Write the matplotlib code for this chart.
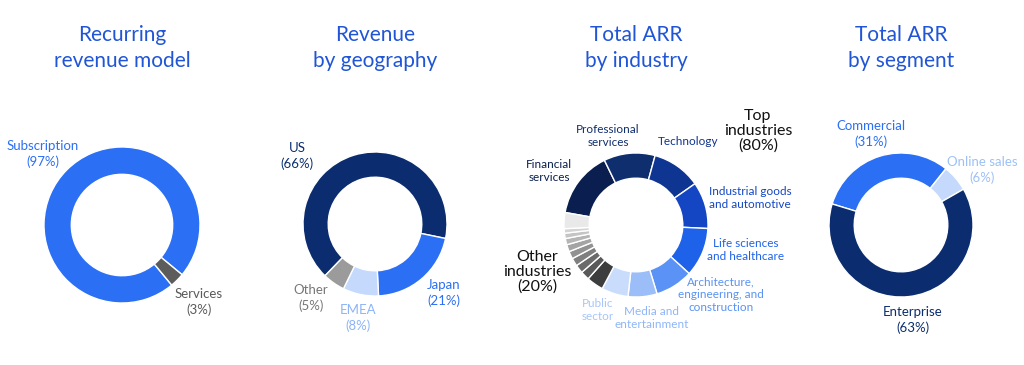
import matplotlib
matplotlib.use('Agg')
import matplotlib.pyplot as plt

plt.rcParams['font.family'] = ['Lato', 'DejaVu Sans']

W, H = 1024, 365

# ---- data ----
model_labels = ['Subscription', 'Services']
model_vals = [97, 3]

geo_labels = ['US', 'Japan', 'EMEA', 'Other']
geo_vals = [66, 21, 8, 5]

ind_labels = ['Financial services', 'Professional services', 'Technology',
              'Industrial goods and automotive', 'Life sciences and healthcare',
              'Architecture, engineering, and construction',
              'Media and entertainment', 'Public sector']
ind_vals = [15, 11.5, 11, 10.5, 11, 8.5, 6.5, 6]
other_ind_vals = [3.8, 2.0, 1.9, 1.8, 1.7, 1.6, 1.4, 1.2, 1.0, 3.6]

seg_labels = ['Commercial', 'Online sales', 'Enterprise']
seg_vals = [31, 6, 63]

titles = ['Recurring\nrevenue model', 'Revenue\nby geography',
          'Total ARR\nby industry', 'Total ARR\nby segment']

# ---- colours ----
BLUE = '#2b6ff5'
NAVY = '#0b2d6f'
LIGHT = '#c4d9fb'
TITLE = '#1f55d6'
ind_colors = ['#0a1f4f', '#0f2e6e', '#0e3591', '#1446c4', '#1f62ea',
              '#5a92f5', '#9bbef8', '#c9dcfb']
grey_colors = ['#3d3d3d', '#595959', '#6b6b6b', '#7f7f7f', '#929292',
               '#a4a4a4', '#b5b5b5', '#c4c4c4', '#d3d3d3', '#e9e9e9']

fig = plt.figure(figsize=(W / 100, H / 100), dpi=100)


def donut(cx, cy, r, vals, colors, start):
    s = r * 1.05
    ax = fig.add_axes([(cx - s) / W, (H - cy - s) / H, 2 * s / W, 2 * s / H])
    ax.pie(vals, colors=colors, startangle=start, counterclock=False,
           wedgeprops=dict(width=0.35, edgecolor='white', linewidth=1))
    ax.set_xlim(-1.05, 1.05)
    ax.set_ylim(-1.05, 1.05)
    ax.set_aspect('equal')
    ax.axis('off')
    return ax


def label(x, y, s, color, size=9.5, ls=1.25):
    fig.text(x / W, 1 - y / H, s, color=color, fontsize=size, ha='center',
             va='center', linespacing=ls)


# titles
for x, t in zip([122, 375, 636, 901], titles):
    label(x, 48, t, TITLE, size=15, ls=1.4)

# 1 recurring revenue model
donut(122, 225, 78, model_vals, [BLUE, '#5c5c5c'], 309.6)
label(43, 154, 'Subscription\n(97%)', BLUE)
label(199, 302, 'Services\n(3%)', '#5a5a5a')

# 2 geography
donut(375, 224, 72, geo_vals, [NAVY, BLUE, LIGHT, '#9b9b9b'], 226)
label(297, 156, 'US\n(66%)', NAVY)
label(444, 293, 'Japan\n(21%)', BLUE)
label(358, 318, 'EMEA\n(8%)', '#8cb4f7')
label(311, 298, 'Other\n(5%)', '#777777')

# 3 industry
donut(636, 225, 72, ind_vals + other_ind_vals, ind_colors + grey_colors, 170)
label(758, 131, 'Top\nindustries\n(80%)', '#111111', size=11.5, ls=1.05)
label(537, 272, 'Other\nindustries\n(20%)', '#111111', size=11.5, ls=1.05)
label(549, 171, 'Financial\nservices', ind_colors[0], size=8.5, ls=1.2)
label(608, 136, 'Professional\nservices', ind_colors[1], size=8.5, ls=1.2)
label(688, 142, 'Technology', ind_colors[2], size=8.5)
label(750, 198, 'Industrial goods\nand automotive', ind_colors[3], size=8.5, ls=1.2)
label(746, 250, 'Life sciences\nand healthcare', ind_colors[4], size=8.5, ls=1.2)
label(721, 295, 'Architecture,\nengineering, and\nconstruction', ind_colors[5],
      size=8.5, ls=1.2)
label(652, 318, 'Media and\nentertainment', '#8fb6f8', size=8.5, ls=1.2)
label(598, 310, 'Public\nsector', '#a7c6fa', size=8.5, ls=1.2)

# 4 segment
donut(901, 225, 72, seg_vals, [BLUE, LIGHT, NAVY], 163)
label(871, 134, 'Commercial\n(31%)', BLUE)
label(982, 170, 'Online sales\n(6%)', '#9dc0f7')
label(913, 320, 'Enterprise\n(63%)', NAVY)

fig.savefig('out.png', dpi=100)
